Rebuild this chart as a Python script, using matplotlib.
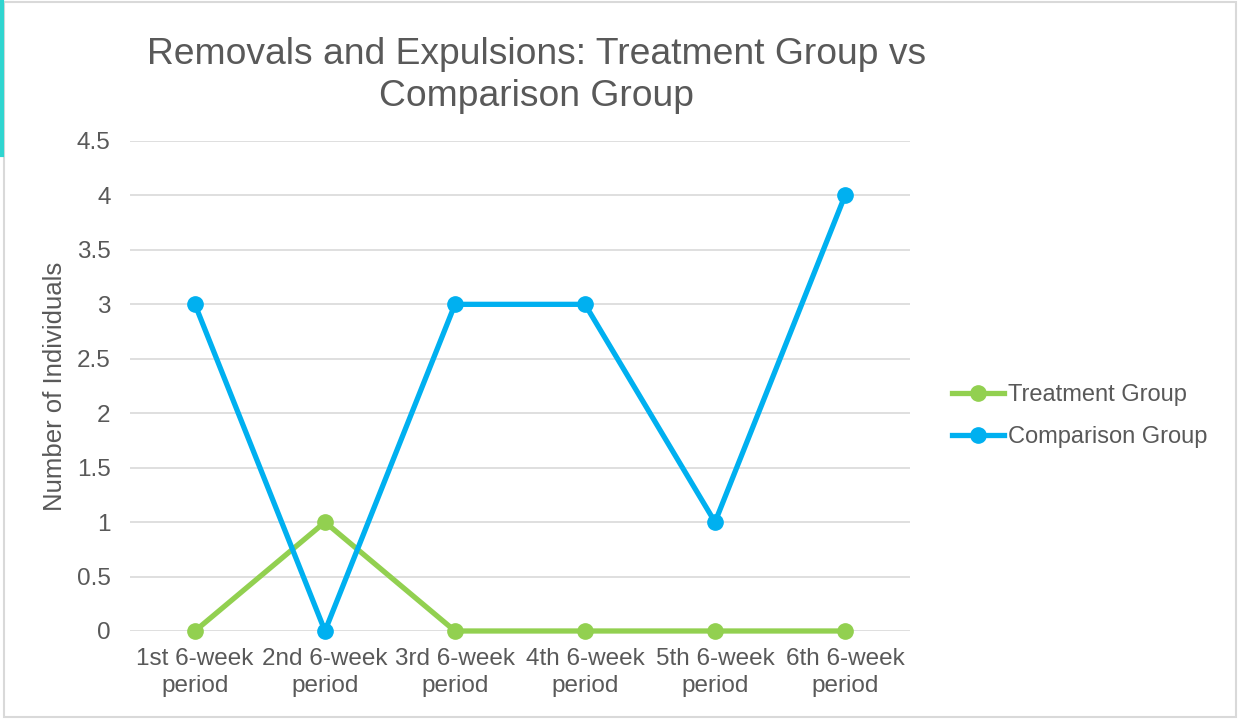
import matplotlib.pyplot as plt
from matplotlib.patches import Rectangle
from matplotlib.lines import Line2D

categories = ["1st 6-week\nperiod", "2nd 6-week\nperiod", "3rd 6-week\nperiod",
              "4th 6-week\nperiod", "5th 6-week\nperiod", "6th 6-week\nperiod"]
treatment = [0, 1, 0, 0, 0, 0]
comparison = [3, 0, 3, 3, 1, 4]
yticks = [0, 0.5, 1, 1.5, 2, 2.5, 3, 3.5, 4, 4.5]

plt.rcParams["font.family"] = ["Liberation Sans", "DejaVu Sans"]
text_color = "#595959"

fig = plt.figure(figsize=(12.4, 7.19), dpi=100)
ax = fig.add_axes([0.1048, 0.1224, 0.6291, 0.6815])

x = list(range(len(categories)))
ax.plot(x, treatment, color="#92D050", linewidth=3.8, marker="o", markersize=11,
        label="Treatment Group", clip_on=False, zorder=3)
ax.plot(x, comparison, color="#00B0F0", linewidth=3.8, marker="o", markersize=11,
        label="Comparison Group", clip_on=False, zorder=3)

ax.set_xlim(-0.5, len(categories) - 0.5)
ax.set_ylim(0, 4.5)
ax.set_yticks(yticks)
ax.set_yticklabels([f"{v:g}" for v in yticks])
ax.set_xticks(x)
ax.set_xticklabels(categories, linespacing=1.3)
ax.tick_params(axis="both", length=0, labelsize=17.5, colors=text_color)
ax.tick_params(axis="y", pad=14)
ax.tick_params(axis="x", pad=12)
ax.grid(axis="y", color="#D9D9D9", linewidth=1.2)
ax.set_axisbelow(True)
for s in ax.spines.values():
    s.set_visible(False)

ax.set_ylabel("Number of Individuals", fontsize=18.5, color=text_color, labelpad=7)

fig.text(0.433, 0.895, "Removals and Expulsions: Treatment Group vs\nComparison Group",
         ha="center", va="center", fontsize=26.8, color=text_color, linespacing=1.25)

fig.legend(loc="center left", bbox_to_anchor=(0.751, 0.421), frameon=False,
           fontsize=17, labelcolor=text_color, handlelength=2.2, handletextpad=0.17,
           labelspacing=0.85)

# outer chart border and teal edge
fig.patches.append(Rectangle((0.003, 0.003), 0.994, 0.994, transform=fig.transFigure,
                             fill=False, edgecolor="#D9D9D9", linewidth=1.5))
fig.lines.append(Line2D([0.002, 0.002], [1.0, 0.785], transform=fig.transFigure,
                        color="#2FD5D0", linewidth=3))

fig.savefig("out.png", dpi=100)
